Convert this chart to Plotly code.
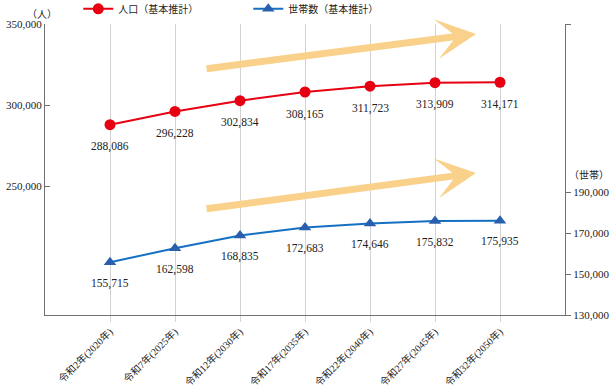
import plotly.graph_objects as go

categories = ["令和2年(2020年)", "令和7年(2025年)", "令和12年(2030年)", "令和17年(2035年)",
              "令和22年(2040年)", "令和27年(2045年)", "令和32年(2050年)"]
population = [288086, 296228, 302834, 308165, 311723, 313909, 314171]
households = [155715, 162598, 168835, 172683, 174646, 175832, 175935]

pop_name = "人口（基本推計）"
hh_name = "世帯数（基本推計）"
left_ticks = [250000, 300000, 350000]
right_ticks = [130000, 150000, 170000, 190000]

FONT = "Liberation Serif, 'Noto Sans CJK JP', serif"
RED = "#E60012"
BLUE_LINE = "#1570C2"
BLUE_MK = "#2A5EAE"
ARROW = "#F9D18A"
AXIS = "#707070"
GRID = "#D2D2D2"

x_idx = list(range(len(categories)))

fig = go.Figure()
fig.add_trace(go.Scatter(
    x=x_idx, y=population, name=pop_name, mode="lines+markers",
    line=dict(color=RED, width=2), marker=dict(color=RED, size=11, symbol="circle"),
    yaxis="y"))
fig.add_trace(go.Scatter(
    x=x_idx, y=households, name=hh_name, mode="lines+markers",
    line=dict(color=BLUE_LINE, width=2), marker=dict(color=BLUE_MK, size=11, symbol="triangle-up"),
    yaxis="y2"))

annotations = []
for i, v in zip(x_idx, population):
    annotations.append(dict(x=i, y=v, xref="x", yref="y", text=f"{v:,}", showarrow=False,
                            yshift=-22, font=dict(family=FONT, size=11.5, color="#222")))
for i, v in zip(x_idx, households):
    annotations.append(dict(x=i, y=v, xref="x", yref="y2", text=f"{v:,}", showarrow=False,
                            yshift=-21, font=dict(family=FONT, size=11.5, color="#222")))

# decorative trend arrows
for tip_y, ay in [(0.966, 35), (0.488, 36)]:
    annotations.append(dict(x=0.829, y=tip_y, xref="paper", yref="paper", text="",
                            showarrow=True, ax=-271, ay=ay, arrowhead=3, arrowsize=0.95,
                            arrowwidth=7, arrowcolor=ARROW, standoff=0))

annotations.append(dict(x=-0.038, y=1.058, xref="paper", yref="paper", text="（人）",
                        showarrow=False, font=dict(family=FONT, size=10, color="#222")))
annotations.append(dict(x=1.088, y=0.481, xref="paper", yref="paper", text="（世帯）",
                        xanchor="right", showarrow=False,
                        font=dict(family=FONT, size=10, color="#222")))

fig.update_layout(
    width=613, height=391,
    margin=dict(l=45, r=48, t=24, b=76, autoexpand=False),
    paper_bgcolor="white", plot_bgcolor="white",
    font=dict(family=FONT, size=11, color="#222"),
    showlegend=True,
    legend=dict(orientation="h", x=0.064, y=1.052, xanchor="left", yanchor="middle",
                entrywidth=125, entrywidthmode="pixels",
                font=dict(family=FONT, size=10, color="#222"), bgcolor="rgba(0,0,0,0)"),
    xaxis=dict(range=[-1, 7], tickmode="array", tickvals=x_idx, ticktext=categories,
               tickangle=-45, showgrid=True, gridcolor=GRID, gridwidth=1, automargin=False,
               showline=True, linecolor=AXIS, linewidth=1, ticks="outside",
               tickcolor=GRID, ticklen=6, zeroline=False,
               tickfont=dict(family=FONT, size=10, color="#222")),
    yaxis=dict(range=[171000, 350000], tickmode="array", tickvals=left_ticks,
               ticktext=[f"{v:,}" for v in left_ticks], showgrid=False, zeroline=False,
               showline=True, linecolor=AXIS, linewidth=1, ticks="inside", automargin=False,
               tickcolor=AXIS, ticklen=5, tickfont=dict(family=FONT, size=11, color="#222")),
    yaxis2=dict(range=[130000, 272000], overlaying="y", side="right", tickmode="array",
                tickvals=right_ticks + [272000],
                ticktext=[f"{v:,}" for v in right_ticks] + [""], automargin=False,
                showgrid=False, zeroline=False, showline=True, linecolor=AXIS, linewidth=1,
                ticks="outside", tickcolor=AXIS, ticklen=5,
                tickfont=dict(family=FONT, size=11, color="#222")),
    annotations=annotations,
)

fig.write_html("out.html", config={"displayModeBar": False},
               post_script="document.body.style.margin='0';")
